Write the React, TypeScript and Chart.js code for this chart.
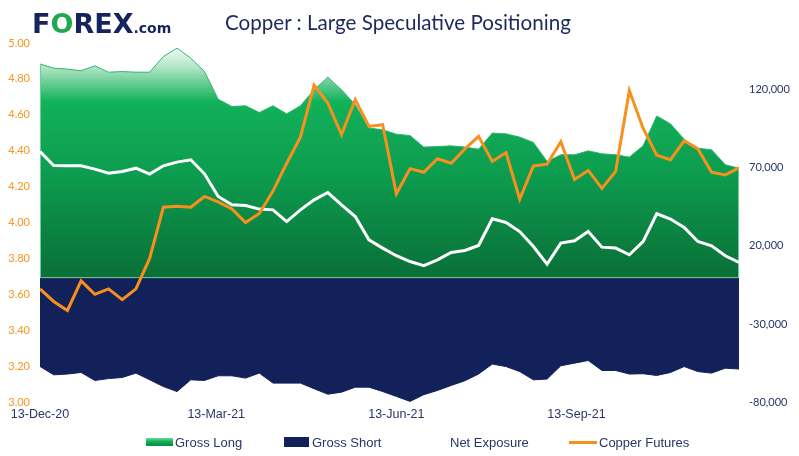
import React, { useEffect, useRef } from 'react';
import { Chart, registerables } from 'chart.js';

Chart.register(...registerables);

// Weekly observation dates
const weekDates = [
  '2020-12-13', '2020-12-20', '2020-12-27', '2021-01-03', '2021-01-10', '2021-01-17', '2021-01-24', '2021-01-31',
  '2021-02-07', '2021-02-14', '2021-02-21', '2021-02-28', '2021-03-07', '2021-03-14', '2021-03-21', '2021-03-28',
  '2021-04-04', '2021-04-11', '2021-04-18', '2021-04-25', '2021-05-02', '2021-05-09', '2021-05-16', '2021-05-23',
  '2021-05-30', '2021-06-06', '2021-06-13', '2021-06-20', '2021-06-27', '2021-07-04', '2021-07-11', '2021-07-18',
  '2021-07-25', '2021-08-01', '2021-08-08', '2021-08-15', '2021-08-22', '2021-08-29', '2021-09-05', '2021-09-12',
  '2021-09-19', '2021-09-26', '2021-10-03', '2021-10-10', '2021-10-17', '2021-10-24', '2021-10-31', '2021-11-07',
  '2021-11-14', '2021-11-21', '2021-11-28', '2021-12-05',
];

const grossLong = [
  136500, 133900, 133300, 132200, 135400, 131300, 131700, 131300, 131300, 141300, 146700, 140300, 131700,
  114000, 109300, 109800, 105500, 109800, 104600, 109800, 120000, 128100, 120000, 110500, 95500, 94400,
  91600, 90700, 83300, 83700, 84100, 83300, 82000, 92300, 91800, 89700, 86300, 74100, 78400, 78400,
  80900, 79000, 78400, 76900, 84100, 103300, 98200, 88400, 82600, 81600, 72000, 69800,
];

const grossShort = [
  -57250, -62600, -62100, -61100, -66200, -65000, -64300, -61500, -65800, -70100, -73300, -65800, -66200,
  -63200, -63200, -64700, -61500, -67900, -67900, -67900, -71500, -75000, -73700, -70500, -70500, -73300,
  -76400, -79600, -75300, -72600, -69400, -66400, -62100, -55700, -57300, -60500, -65800, -65300, -56800,
  -55100, -53400, -59800, -59800, -62100, -61900, -63000, -61100, -57300, -60500, -61500, -58300, -58900,
];

const netExposure = [
  80500, 71500, 71300, 71300, 69200, 66600, 67700, 69800, 66000, 71300, 73700, 75200, 66200,
  51700, 46300, 45900, 43600, 43100, 35600, 43100, 49500, 54200, 46300, 38800, 23900, 18600,
  13700, 10000, 7300, 11100, 15800, 17100, 20300, 37400, 35000, 29200, 19600, 8300, 21800,
  23300, 29200, 19200, 18600, 14300, 22800, 40600, 37200, 31800, 22800, 20100, 13700, 9400,
];

const copperFutures = [
  3.63, 3.56, 3.51, 3.675, 3.6, 3.63, 3.57, 3.63, 3.8, 4.085, 4.09, 4.085, 4.145,
  4.115, 4.075, 4.0, 4.05, 4.175, 4.33, 4.475, 4.765, 4.665, 4.49, 4.685, 4.535, 4.545,
  4.16, 4.3, 4.28, 4.355, 4.33, 4.41, 4.48, 4.34, 4.39, 4.13, 4.315, 4.325, 4.45,
  4.24, 4.29, 4.19, 4.285, 4.735, 4.525, 4.375, 4.35, 4.455, 4.41, 4.28, 4.265, 4.305,
];

const xTickDates = ['2020-12-13', '2021-03-13', '2021-06-13', '2021-09-13'];
const xTickLabels = ['13-Dec-20', '13-Mar-21', '13-Jun-21', '13-Sep-21'];
const rightTickValues = [-80000, -30000, 20000, 70000, 120000];

const NAVY = '#13215a';
const ORANGE = '#f7901e';
const TEXT = '#2b3566';

const DAY = 86400000;
const t0 = Date.parse(weekDates[0]);
const dayOf = (d: string) => (Date.parse(d) - t0) / DAY;
const xs = weekDates.map(dayOf);
const xTickDays = xTickDates.map(dayOf);
const pts = (arr: number[]) => arr.map((v, i) => ({ x: xs[i], y: v }));

const greenFill = (ctx: any) => {
  const chart = ctx.chart;
  const area = chart.chartArea;
  if (!area || !chart.scales.yR) return '#10b058';
  const y0 = chart.scales.yR.getPixelForValue(0);
  const g = chart.ctx.createLinearGradient(0, area.top, 0, y0);
  g.addColorStop(0, '#ffffff');
  g.addColorStop(0.1, '#b5e6c8');
  g.addColorStop(0.25, '#12b15a');
  g.addColorStop(0.55, '#0d9d4f');
  g.addColorStop(1, '#0a6f38');
  return g;
};

const longEdges = {
  id: 'longEdges',
  afterDatasetDraw(chart: any, args: any) {
    if (chart.data.datasets[args.index].label !== 'Gross Long') return;
    const { ctx } = chart;
    const yR = chart.scales.yR;
    const x = chart.scales.x;
    const y0 = yR.getPixelForValue(0);
    const lastX = x.getPixelForValue(xs[xs.length - 1]);
    const firstX = x.getPixelForValue(xs[0]);
    ctx.save();
    ctx.strokeStyle = '#6fcf96';
    ctx.lineWidth = 1;
    ctx.beginPath();
    ctx.moveTo(firstX, y0 + 0.5);
    ctx.lineTo(lastX, y0 + 0.5);
    ctx.moveTo(lastX - 0.5, yR.getPixelForValue(grossLong[grossLong.length - 1]));
    ctx.lineTo(lastX - 0.5, y0);
    ctx.moveTo(firstX + 0.5, yR.getPixelForValue(grossLong[0]));
    ctx.lineTo(firstX + 0.5, y0);
    ctx.stroke();
    ctx.restore();
  },
};

function ChartCanvas() {
  const ref = useRef<HTMLCanvasElement | null>(null);
  useEffect(() => {
    if (!ref.current) return;
    const chart = new Chart(ref.current, {
      type: 'line',
      data: {
        datasets: [
          {
            label: 'Copper Futures',
            data: pts(copperFutures),
            yAxisID: 'yL',
            borderColor: ORANGE,
            borderWidth: 3,
            pointRadius: 0,
            fill: false,
            order: 0,
          },
          {
            label: 'Net Exposure',
            data: pts(netExposure),
            yAxisID: 'yR',
            borderColor: '#ffffff',
            borderWidth: 3,
            pointRadius: 0,
            fill: false,
            order: 1,
          },
          {
            label: 'Gross Long',
            data: pts(grossLong),
            yAxisID: 'yR',
            borderColor: '#2fb66d',
            borderWidth: 1,
            backgroundColor: greenFill,
            pointRadius: 0,
            fill: 'origin',
            order: 2,
          },
          {
            label: 'Gross Short',
            data: pts(grossShort),
            yAxisID: 'yR',
            borderColor: NAVY,
            borderWidth: 1,
            backgroundColor: NAVY,
            pointRadius: 0,
            fill: 'origin',
            order: 3,
          },
        ],
      },
      options: {
        animation: false,
        responsive: false,
        devicePixelRatio: 1,
        layout: { padding: { top: 43, left: 0, right: 0, bottom: 0 } },
        plugins: { legend: { display: false }, title: { display: false }, tooltip: { enabled: false } },
        elements: { line: { tension: 0 } },
        scales: {
          x: {
            type: 'linear',
            min: xs[0],
            max: xs[xs.length - 1],
            grid: { display: false, drawTicks: false },
            border: { display: false },
            afterBuildTicks: (s: any) => {
              s.ticks = xTickDays.map((v) => ({ value: v }));
            },
            afterFit: (s: any) => {
              s.height = 54;
            },
            ticks: {
              autoSkip: false,
              maxRotation: 0,
              padding: 5,
              color: TEXT,
              font: { family: '"Liberation Sans Narrow", "Liberation Sans", sans-serif', size: 12.5 },
              callback: (v: any) => {
                const i = xTickDays.indexOf(Number(v));
                return i >= 0 ? xTickLabels[i] : '';
              },
            },
          },
          yL: {
            type: 'linear',
            position: 'left',
            min: 3,
            max: 5,
            grid: { display: false, drawTicks: false },
            border: { display: false },
            afterFit: (s: any) => {
              s.width = 40;
            },
            ticks: {
              stepSize: 0.2,
              padding: 10,
              color: '#f7941d',
              font: { family: 'Lato, sans-serif', size: 11 },
              callback: (v: any) => Number(v).toFixed(2),
            },
          },
          yR: {
            type: 'linear',
            position: 'right',
            min: -80000,
            max: 150000,
            grid: { display: false, drawTicks: false },
            border: { display: false },
            afterBuildTicks: (s: any) => {
              s.ticks = rightTickValues.map((v) => ({ value: v }));
            },
            afterFit: (s: any) => {
              s.width = 60;
            },
            ticks: {
              padding: 10,
              color: TEXT,
              font: { family: 'Lato, sans-serif', size: 11 },
              callback: (v: any) => Number(v).toLocaleString('en-US'),
            },
          },
        },
      },
      plugins: [longEdges],
    });
    return () => chart.destroy();
  }, []);
  return <canvas ref={ref} width={799} height={456} style={{ position: 'absolute', left: 0, top: 0, width: 799, height: 456 }} />;
}

const legendFont: React.CSSProperties = {
  position: 'absolute',
  fontFamily: '"Liberation Sans Narrow", "Liberation Sans", sans-serif',
  fontSize: 13,
  lineHeight: '13px',
  color: TEXT,
  top: 436,
  whiteSpace: 'nowrap',
};

export default function App() {
  return (
    <div style={{ position: 'fixed', left: 0, top: 0, width: 799, height: 456, background: '#ffffff', overflow: 'hidden' }}>
      <ChartCanvas />
      <div
        style={{
          position: 'absolute',
          left: 32,
          top: 10,
          fontFamily: '"DejaVu Sans", sans-serif',
          fontWeight: 'bold',
          fontSize: 27,
          lineHeight: '27px',
          color: '#16235c',
          whiteSpace: 'nowrap',
        }}
      >
        F<span style={{ color: '#1fa84f' }}>O</span>REX<span style={{ fontSize: 14 }}>.com</span>
      </div>
      <div
        style={{
          position: 'absolute',
          left: 225,
          top: 9,
          fontFamily: 'Lato, sans-serif',
          fontSize: 20.6,
          lineHeight: '26px',
          color: '#1b2a5e',
          whiteSpace: 'nowrap',
        }}
      >
        Copper : Large Speculative Positioning
      </div>
      <div style={{ position: 'absolute', left: 146, top: 438, width: 27, height: 8, background: 'linear-gradient(to bottom, #6fd79a, #12ad58 45%, #0b8a45)' }} />
      <div style={{ ...legendFont, left: 175 }}>Gross Long</div>
      <div style={{ position: 'absolute', left: 284, top: 437, width: 25, height: 10, background: NAVY }} />
      <div style={{ ...legendFont, left: 312 }}>Gross Short</div>
      <div style={{ ...legendFont, left: 450 }}>Net Exposure</div>
      <div style={{ position: 'absolute', left: 569, top: 441, width: 28, height: 3, background: ORANGE }} />
      <div style={{ ...legendFont, left: 599 }}>Copper Futures</div>
    </div>
  );
}
